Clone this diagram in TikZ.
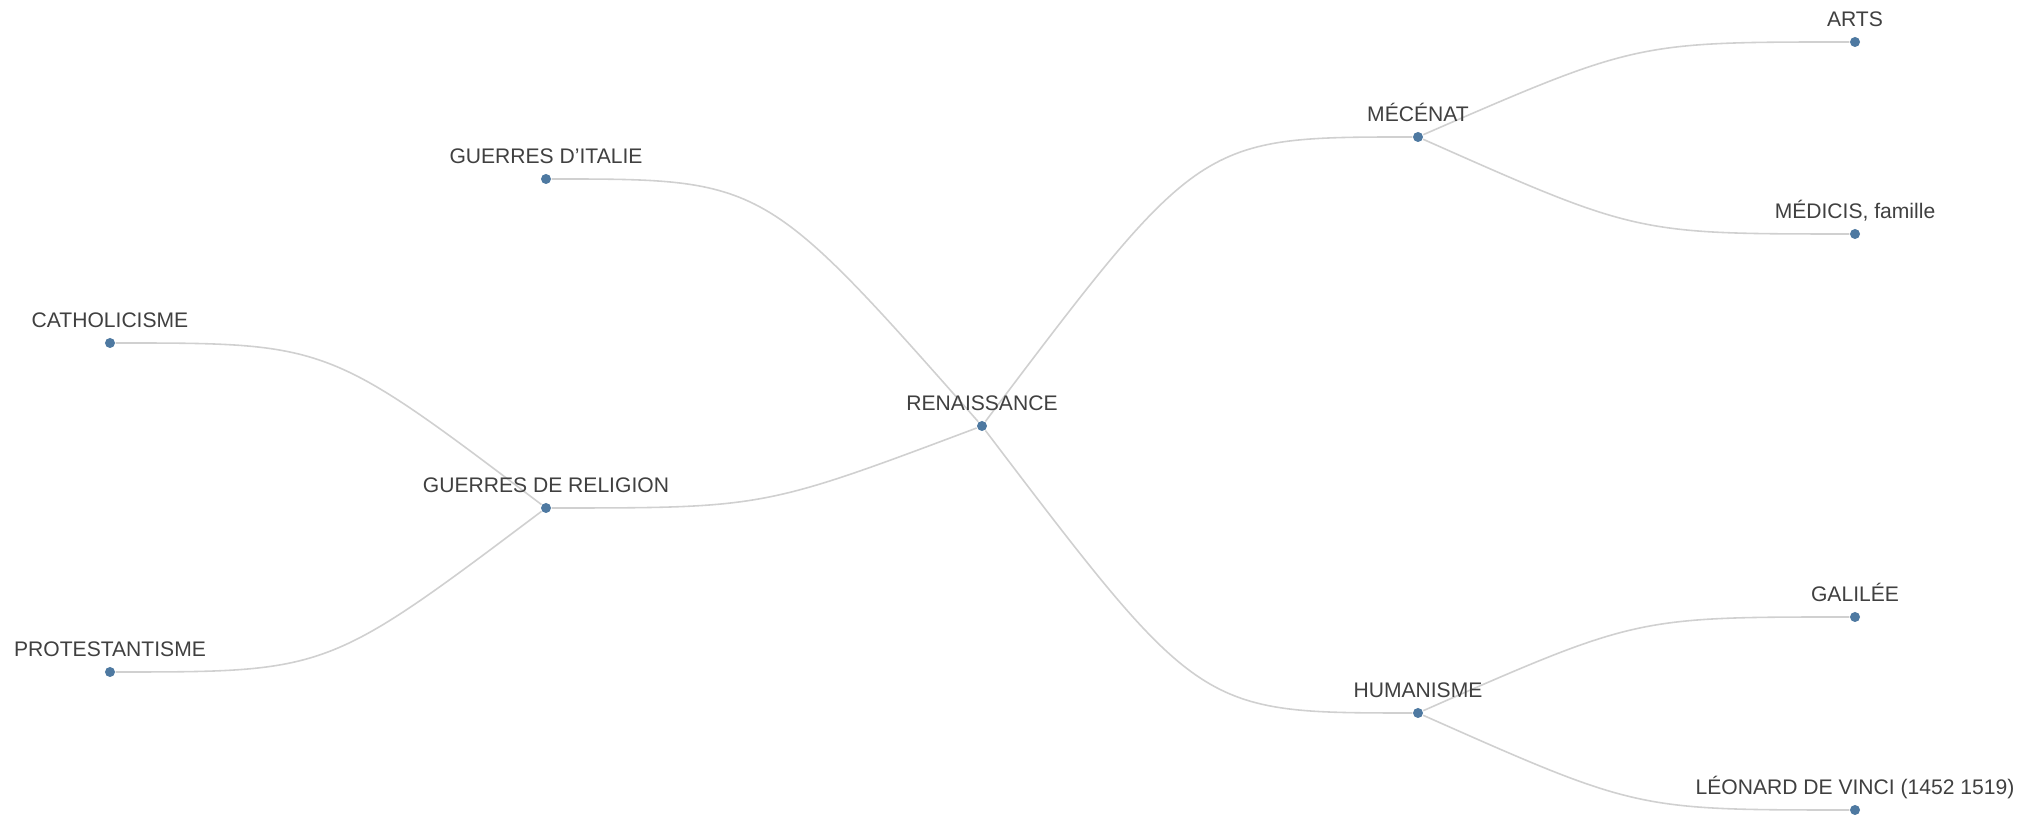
\documentclass[tikz,border=0pt]{standalone}
\usepackage{fontspec}
\setmainfont{Liberation Sans}
\usetikzlibrary{calc,backgrounds}
\definecolor{linkgray}{RGB}{208,208,208}
\definecolor{dotblue}{RGB}{78,121,161}
\definecolor{textgray}{RGB}{64,64,64}

\begin{document}
\begin{tikzpicture}
% Styles for the dots, their labels and the links.
\tikzstyle{dot}=[circle,fill=dotblue,inner sep=0pt,minimum size=1mm]
\tikzstyle{lbl}=[font=\fontsize{6}{7}\selectfont,text=textgray,inner sep=0pt,
text depth=0pt,label distance=0.9mm]
\tikzstyle{link}=[draw=linkgray,line width=0.45pt,to path={.. controls
($(\tikztotarget)!.5!(\tikztotarget -| \tikztostart)$) and
($(\tikztotarget)!.5!(\tikztotarget -| \tikztostart)$) .. (\tikztotarget)}]

% This draws the root.
\node[dot] (ren) at (0,0) [label={[lbl]above:RENAISSANCE}] {};

% This fixes the margins.
\useasboundingbox ($(ren)+(-9.82,-3.95)$) rectangle ($(ren)+(10.42,4.26)$);

% This draws the left branch.
\node[dot] (italie) at ($(ren)+(-4.36,2.47)$) [label={[lbl]above:GUERRES D'ITALIE}] {};
\node[dot] (religion) at ($(ren)+(-4.36,-0.82)$) [label={[lbl]above:GUERRES DE RELIGION}] {};
\node[dot] (catho) at ($(religion)+(-4.36,1.65)$) [label={[lbl]above:CATHOLICISME}] {};
\node[dot] (protes) at ($(religion)+(-4.36,-1.64)$) [label={[lbl]above:PROTESTANTISME}] {};

% This draws the right branch.
\node[dot] (mecenat) at ($(ren)+(4.36,2.89)$) [label={[lbl]above:MÉCÉNAT}] {};
\node[dot] (arts) at ($(mecenat)+(4.37,0.95)$) [label={[lbl]above:ARTS}] {};
\node[dot] (medicis) at ($(mecenat)+(4.37,-0.97)$) [label={[lbl]above:MÉDICIS, famille}] {};
\node[dot] (human) at ($(ren)+(4.36,-2.87)$) [label={[lbl]above:HUMANISME}] {};
\node[dot] (galilee) at ($(human)+(4.37,0.96)$) [label={[lbl]above:GALILÉE}] {};
\node[dot] (leonard) at ($(human)+(4.37,-0.97)$) [label={[lbl]above:LÉONARD DE VINCI (1452 1519)}] {};

% This draws the background and the links.
\begin{scope}[on background layer]
\fill[white] ($(ren)+(-9.82,-3.95)$) rectangle ($(ren)+(10.42,4.26)$);
\draw[link] (ren) to (italie);
\draw[link] (ren) to (religion);
\draw[link] (religion) to (catho);
\draw[link] (religion) to (protes);
\draw[link] (ren) to (mecenat);
\draw[link] (mecenat) to (arts);
\draw[link] (mecenat) to (medicis);
\draw[link] (ren) to (human);
\draw[link] (human) to (galilee);
\draw[link] (human) to (leonard);
\end{scope}

\end{tikzpicture}
\end{document}
